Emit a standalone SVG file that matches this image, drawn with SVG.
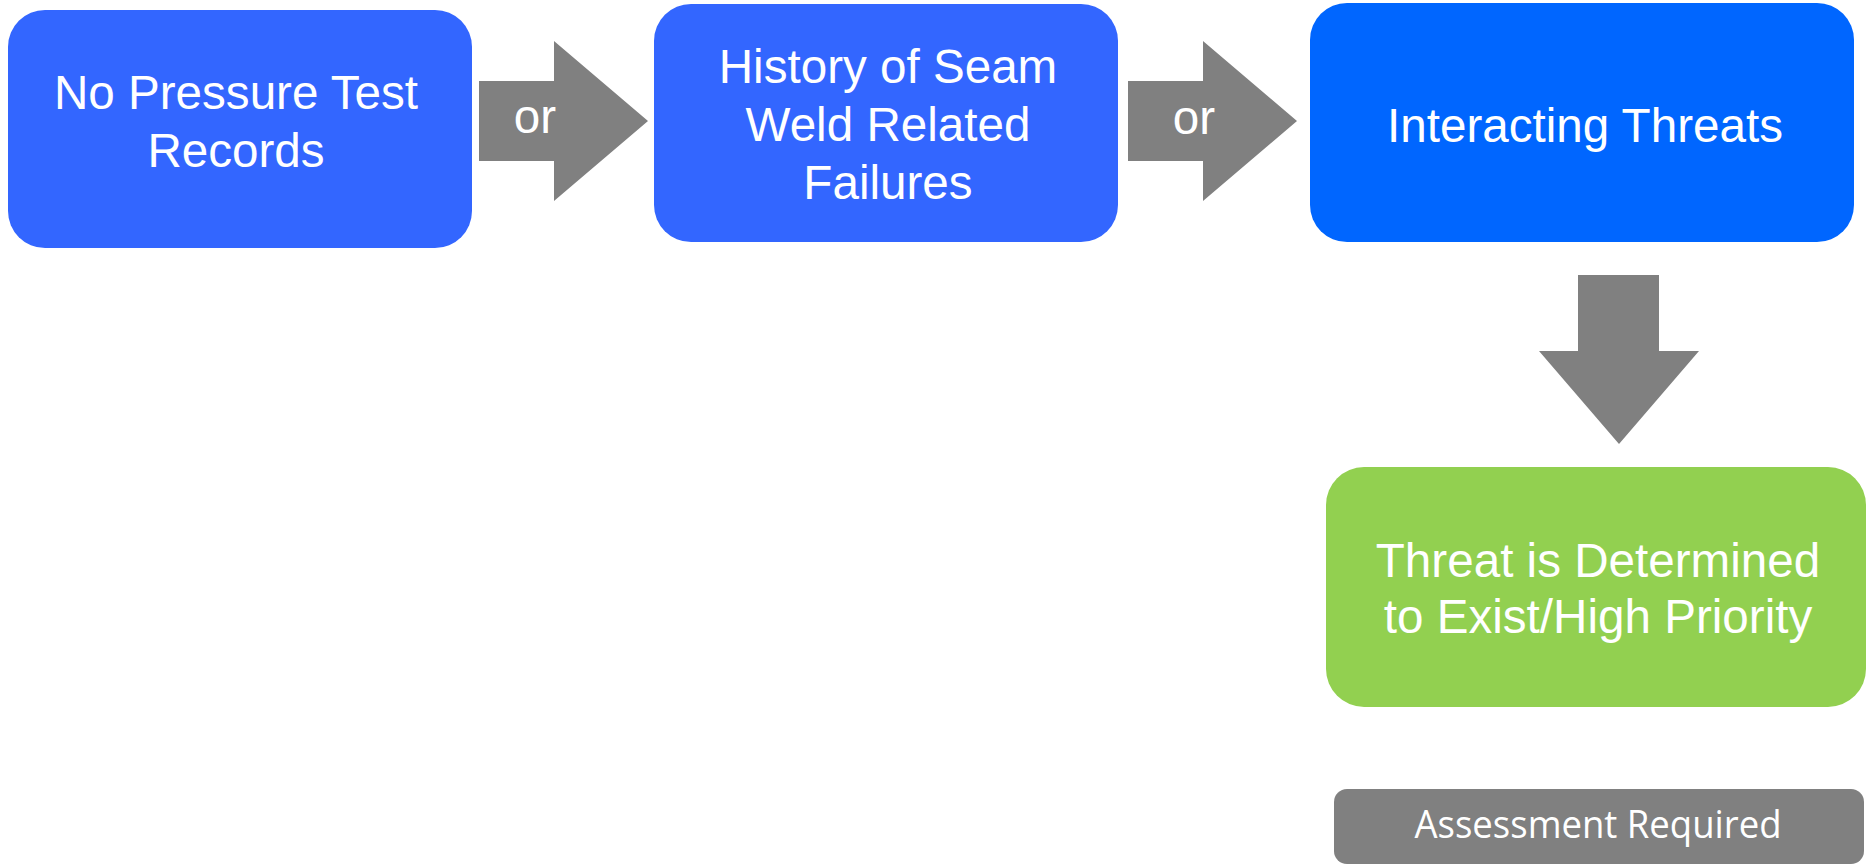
<svg xmlns="http://www.w3.org/2000/svg" width="1868" height="865" viewBox="0 0 1868 865">
<style>
.box{fill:#3366FF}
.t{font-family:"Liberation Sans",Arial,sans-serif;font-size:47.6px;fill:#FFFFFF;text-anchor:middle}
.arr{fill:#808080}
</style>
<rect width="1868" height="865" fill="#FFFFFF"/>
<g id="connectors">
<g id="arrow1"><polygon class="arr" points="479,81 554,81 554,41 648,121 554,201 554,161 479,161"/><text class="t" x="535" y="133">or</text></g>
<g id="arrow2"><polygon class="arr" points="1128,81 1203,81 1203,41 1297,121 1203,201 1203,161 1128,161"/><text class="t" x="1194" y="134">or</text></g>
<g id="arrow3"><polygon class="arr" points="1578,275 1659,275 1659,351 1699,351 1619,444 1539,351 1578,351"/></g>
</g>
<g id="node1"><rect class="box" x="8" y="10" width="464" height="238" rx="37" ry="37"/><text class="t" x="236" y="109">No Pressure Test</text><text class="t" x="236" y="167">Records</text></g>
<g id="node2"><rect class="box" x="654" y="4" width="464" height="238" rx="37" ry="37"/><text class="t" x="888" y="83">History of Seam</text><text class="t" x="888" y="141">Weld Related</text><text class="t" x="888" y="199">Failures</text></g>
<g id="node3"><rect x="1310" y="3" width="544" height="239" rx="37" ry="37" fill="#0066FF"/><text class="t" x="1585" y="142">Interacting Threats</text></g>
<g id="node4"><rect x="1326" y="467" width="540" height="240" rx="38" ry="38" fill="#92D050"/><text class="t" x="1598" y="577">Threat is Determined</text><text class="t" x="1598" y="633">to Exist/High Priority</text></g>
<g id="node5"><rect x="1334" y="789" width="530" height="75" rx="13" ry="13" fill="#808080"/><text x="1598" y="838" font-family="'Open Sans','Noto Sans',sans-serif" font-size="38" fill="#FFFFFF" text-anchor="middle" textLength="367" lengthAdjust="spacingAndGlyphs">Assessment Required</text></g>
</svg>
